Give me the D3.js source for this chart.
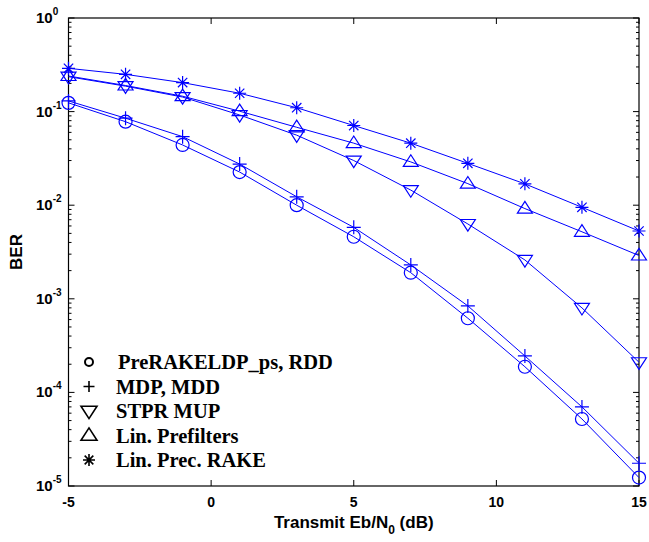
<!DOCTYPE html>
<html>
<head>
<meta charset="utf-8">
<script src="https://cdn.jsdelivr.net/npm/d3@7"></script>
<style>
  html, body { margin: 0; padding: 0; background: #fff; }
  svg { display: block; }
</style>
</head>
<body>
<div id="chart"></div>
<script>
// SNR points (dB)
const snr = [-5, -3, -1, 1, 3, 5, 7, 9, 11, 13, 15];

// BER curves
const berPreRake = [0.124, 0.078, 0.044, 0.0226, 0.0100, 0.0046, 0.0019, 6.2e-4, 1.88e-4, 5.2e-5, 1.23e-5];
const berMdp     = [0.130, 0.085, 0.054, 0.0275, 0.0123, 0.0058, 0.0023, 8.4e-4, 2.45e-4, 7.0e-5, 1.75e-5];
const berStpr    = [0.236, 0.187, 0.143, 0.092, 0.056, 0.030, 0.0145, 0.0063, 0.0026, 8.0e-4, 2.1e-4];
const berLinPre  = [0.240, 0.190, 0.146, 0.101, 0.068, 0.046, 0.0290, 0.0170, 0.0092, 0.0052, 0.0029];
const berLinRake = [0.290, 0.250, 0.204, 0.157, 0.110, 0.071, 0.046, 0.028, 0.0169, 0.0095, 0.0053];

const seriesNames = ["PreRAKELDP_ps, RDD", "MDP, MDD", "STPR MUP", "Lin. Prefilters", "Lin. Prec. RAKE"];
const seriesMarkers = ["circle", "plus", "tridown", "triup", "star"];
const seriesValues = [berPreRake, berMdp, berStpr, berLinPre, berLinRake];

const xTicks = [-5, 0, 5, 10, 15];
const yDecades = [0, -1, -2, -3, -4, -5];

const width = 649, height = 542;

const svg = d3.select("#chart").append("svg")
  .attr("width", width)
  .attr("height", height);

const x = d3.scaleLinear().domain([-5, 15]).range([68.5, 639]);
const y = d3.scaleLog().domain([1e-5, 1]).range([486, 18]);

const blue = "#0000ff";

// marker path generator, centred at 0,0
function markerPath(type, s) {
  const p = d3.path();
  if (type === "circle") {
    p.moveTo(s, 0);
    p.arc(0, 0, s, 0, Math.PI * 2);
  } else if (type === "plus") {
    p.moveTo(-s, 0); p.lineTo(s, 0);
    p.moveTo(0, -s); p.lineTo(0, s);
  } else if (type === "tridown") {
    p.moveTo(-s, -s * 0.6); p.lineTo(s, -s * 0.6); p.lineTo(0, s * 0.95); p.closePath();
  } else if (type === "triup") {
    p.moveTo(-s, s * 0.6); p.lineTo(s, s * 0.6); p.lineTo(0, -s * 0.95); p.closePath();
  } else if (type === "star") {
    const d = s * 0.72;
    p.moveTo(-s, 0); p.lineTo(s, 0);
    p.moveTo(0, -s); p.lineTo(0, s);
    p.moveTo(-d, -d); p.lineTo(d, d);
    p.moveTo(-d, d); p.lineTo(d, -d);
  }
  return p.toString();
}
const markerSize = { circle: 6.5, plus: 7, tridown: 7.5, triup: 7.5, star: 6.5 };

// plot frame
svg.append("rect")
  .attr("x", x(-5)).attr("y", y(1))
  .attr("width", x(15) - x(-5)).attr("height", y(1e-5) - y(1))
  .attr("fill", "none").attr("stroke", "#000").attr("stroke-width", 1.2);

// x ticks (bottom and top, inward)
const axisG = svg.append("g").attr("stroke", "#000").attr("stroke-width", 1);
xTicks.forEach(t => {
  axisG.append("line").attr("x1", x(t)).attr("x2", x(t)).attr("y1", y(1e-5)).attr("y2", y(1e-5) - 6);
  axisG.append("line").attr("x1", x(t)).attr("x2", x(t)).attr("y1", y(1)).attr("y2", y(1) + 6);
});

// y ticks, major + minor on both sides
yDecades.forEach(e => {
  const v = Math.pow(10, e);
  axisG.append("line").attr("x1", x(-5)).attr("x2", x(-5) + 6).attr("y1", y(v)).attr("y2", y(v));
  axisG.append("line").attr("x1", x(15)).attr("x2", x(15) - 6).attr("y1", y(v)).attr("y2", y(v));
  if (e < 0) {
    for (let m = 2; m <= 9; m++) {
      const mv = m * v;
      axisG.append("line").attr("x1", x(-5)).attr("x2", x(-5) + 3).attr("y1", y(mv)).attr("y2", y(mv));
      axisG.append("line").attr("x1", x(15)).attr("x2", x(15) - 3).attr("y1", y(mv)).attr("y2", y(mv));
    }
  }
});

const labelFont = "'Liberation Sans', Arial, sans-serif";

// x tick labels
svg.append("g").selectAll("text")
  .data(xTicks).enter().append("text")
  .attr("x", d => x(d))
  .attr("y", 507)
  .attr("text-anchor", "middle")
  .attr("font-family", labelFont)
  .attr("font-weight", "bold")
  .attr("font-size", 14)
  .text(d => d);

// y tick labels 10^e
const yl = svg.append("g").selectAll("text")
  .data(yDecades).enter().append("text")
  .attr("x", 36)
  .attr("y", d => y(Math.pow(10, d)) + 5)
  .attr("font-family", labelFont)
  .attr("font-weight", "bold")
  .attr("font-size", 15);
yl.append("tspan").text("10");
yl.append("tspan").attr("dy", -8).attr("font-size", 10).text(d => d === 0 ? "0" : "-" + Math.abs(d));

// axis titles
svg.append("text")
  .attr("transform", `translate(22, ${(y(1) + y(1e-5)) / 2}) rotate(-90)`)
  .attr("text-anchor", "middle")
  .attr("font-family", labelFont)
  .attr("font-weight", "bold")
  .attr("font-size", 17)
  .text("BER");

const xt = svg.append("text")
  .attr("x", (x(-5) + x(15)) / 2)
  .attr("y", 528)
  .attr("text-anchor", "middle")
  .attr("font-family", labelFont)
  .attr("font-weight", "bold")
  .attr("font-size", 17);
xt.append("tspan").text("Transmit Eb/N");
xt.append("tspan").attr("dy", 6).attr("font-size", 12).text("0");
xt.append("tspan").attr("dy", -6).text(" (dB)");

// curves
const line = d3.line().x((d, i) => x(snr[i])).y(d => y(d));
const plotG = svg.append("g");
seriesValues.forEach((vals, k) => {
  plotG.append("path")
    .attr("d", line(vals))
    .attr("fill", "none")
    .attr("stroke", blue)
    .attr("stroke-width", 1);
  const mk = seriesMarkers[k];
  plotG.append("g").selectAll("path")
    .data(vals).enter().append("path")
    .attr("transform", (d, i) => `translate(${x(snr[i])},${y(d)})`)
    .attr("d", markerPath(mk, markerSize[mk]))
    .attr("fill", "none")
    .attr("stroke", blue)
    .attr("stroke-width", 1.2);
});

// legend (black symbols, serif text)
const legend = svg.append("g").attr("transform", "translate(89, 362)");
const items = legend.selectAll("g")
  .data(seriesNames).enter().append("g")
  .attr("transform", (d, i) => `translate(0, ${i * 24.5})`);
const legendSize = { circle: 4, plus: 5.5, tridown: 8, triup: 8, star: 6 };
items.append("path")
  .attr("d", (d, i) => markerPath(seriesMarkers[i], legendSize[seriesMarkers[i]]))
  .attr("fill", "none")
  .attr("stroke", "#000")
  .attr("stroke-width", (d, i) => seriesMarkers[i] === "circle" ? 2 : 1.6);
items.append("text")
  .attr("x", (d, i) => i === 0 ? 29 : 27)
  .attr("y", 7)
  .attr("font-family", "'Liberation Serif', 'Times New Roman', serif")
  .attr("font-weight", "bold")
  .attr("font-size", 20.5)
  .text(d => d);
</script>
</body>
</html>
